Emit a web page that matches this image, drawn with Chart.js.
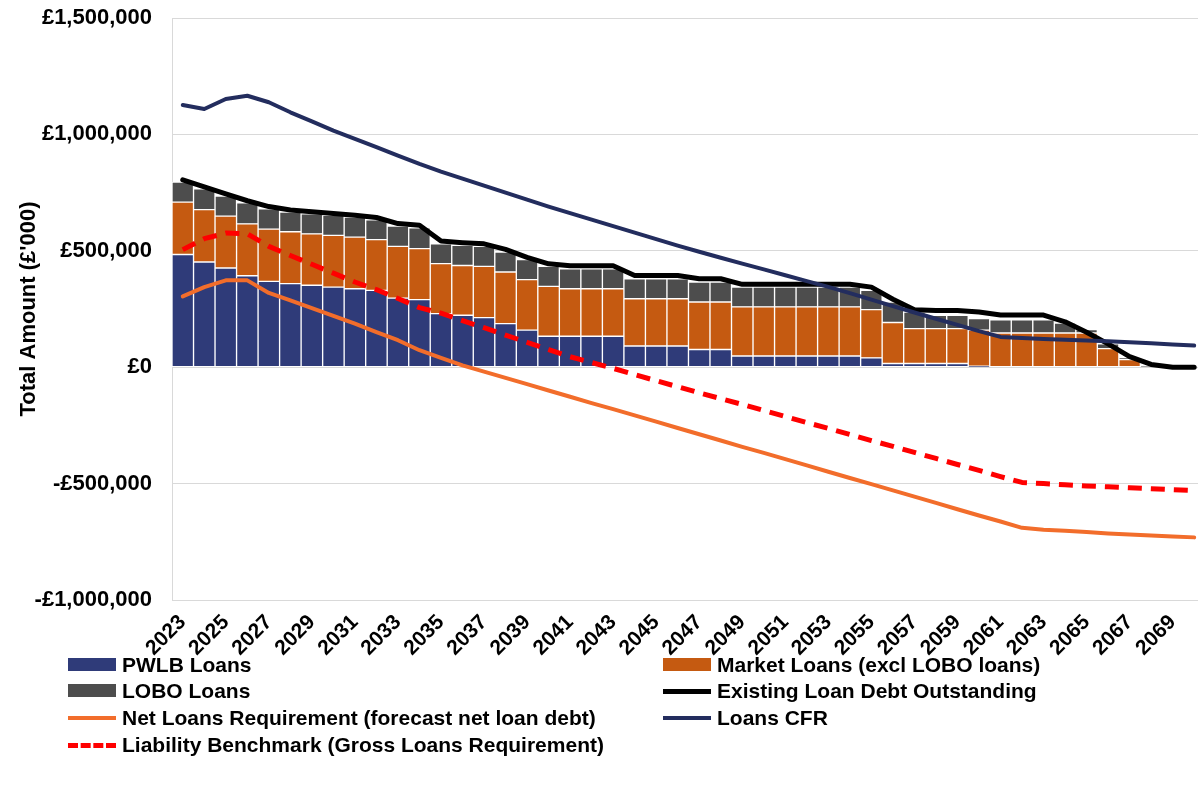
<!DOCTYPE html>
<html>
<head>
<meta charset="utf-8">
<script src="https://cdn.jsdelivr.net/npm/chart.js@4.4.1/dist/chart.umd.min.js"></script>
<style>
  html, body { margin: 0; padding: 0; background: #fff; overflow: hidden; }
  body { width: 1198px; height: 789px; position: relative; font-family: "Liberation Sans", Arial, sans-serif; }
  #wrap { position: absolute; left: 0; top: 0; width: 1214px; height: 656px; }
  #legend { position: absolute; left: 0; top: 0; width: 1198px; height: 789px; pointer-events: none; }
  .item { position: absolute; font-weight: bold; font-size: 21px; color: #000; white-space: nowrap; line-height: 24px; }
  .sym { position: absolute; left: 0; width: 48px; }
  .txt { position: absolute; left: 54px; top: 0; }
</style>
</head>
<body>
<div id="wrap"><canvas id="debtChart"></canvas></div>
<div id="legend"></div>
<script>
// Years 2023-2070
const years = [];
for (let y = 2023; y <= 2070; y++) years.push(String(y));

// Bars, in £'000
const pwlbLoans = [484, 452, 426, 393, 369, 359, 352, 344, 337, 330, 297, 290, 230, 223, 213, 187, 159, 133, 133, 133,
  133, 91, 91, 91, 76, 76, 48, 48, 48, 48, 48, 48, 40, 16, 16, 16, 16, 4, 0, 0,
  0, 0, 0, 0, 0, 0, 0, 0];
const marketLoans = [225, 225, 223, 223, 224, 223, 221, 222, 222, 218, 222, 219, 215, 214, 220, 222, 217, 214, 204, 204,
  204, 203, 203, 203, 204, 204, 211, 211, 211, 211, 211, 211, 207, 176, 150, 150, 150, 155, 147, 147,
  147, 147, 147, 80, 33, 0, 0, 0];
const loboLoans = [86, 89, 86, 90, 87, 84, 86, 86, 86, 85, 87, 90, 85, 86, 86, 85, 86, 86, 86, 86,
  86, 86, 86, 86, 86, 86, 85, 85, 85, 85, 85, 85, 83, 88, 71, 57, 57, 50, 57, 57,
  57, 43, 15, 20, 7, 4, 0, 0];

// Lines, in £'000
const existingDebt = [805, 775, 745, 715, 690, 675, 668, 660, 653, 643, 617, 610, 542, 535, 530, 506, 472, 444, 436, 436,
  436, 394, 394, 394, 380, 380, 356, 356, 356, 356, 356, 356, 344, 292, 247, 244, 244, 237, 224, 224,
  224, 195, 150, 100, 45, 12, 0, 0];
const netLoansReq = [304, 344, 373, 373, 319, 287, 254, 220, 187, 151, 116, 73, 40, 8, -19, -46, -73, -100, -127, -154,
  -180, -207, -234, -261, -288, -315, -342, -368, -395, -422, -449, -476, -502, -529, -556, -583, -610, -637, -663, -690,
  -698, -703, -708, -714, -719, -723, -727, -731];
const loansCFR = [1126, 1109, 1152, 1166, 1138, 1095, 1056, 1016, 981, 945, 909, 873, 840, 810, 780, 750, 720, 690, 662, 634,
  606, 578, 550, 522, 496, 470, 445, 420, 395, 370, 345, 318, 290, 262, 235, 208, 182, 155, 130, 125,
  121, 118, 115, 111, 107, 103, 98, 93];
const liabilityBenchmark = [505, 552, 576, 573, 519, 480, 442, 404, 366, 333, 295, 256, 232, 200, 170, 138, 107, 76, 45, 20,
  -5, -32, -58, -84, -110, -135, -160, -186, -212, -238, -263, -289, -315, -340, -366, -392, -418, -443, -470, -495,
  -500, -505, -510, -514, -518, -522, -526, -530];

const yTicks = [-1000000, -500000, 0, 500000, 1000000, 1500000];

const k = arr => arr.map(v => v * 1000);
const FONT = { family: '"Liberation Sans", Arial, sans-serif', size: 21, weight: 'bold' };
const TICK_FONT = { family: '"Liberation Sans", Arial, sans-serif', size: 22, weight: 'bold' };

const bar = (label, data, color) => ({
  type: 'bar', label, data: k(data), backgroundColor: color, borderColor: '#ffffff',
  borderWidth: 1, borderSkipped: false, stack: 'loans', order: 10,
  barPercentage: 1, categoryPercentage: 1
});
// each line gets its own stack so it is not summed with the others
const line = (label, data, color, width, order, dash) => ({
  type: 'line', label, data: k(data), borderColor: color, backgroundColor: color,
  borderWidth: width, pointRadius: 0, fill: false, tension: 0, order, stack: label,
  borderDash: dash || [], borderCapStyle: dash ? 'butt' : 'round', borderJoinStyle: 'round'
});

const datasets = [
  bar('PWLB Loans', pwlbLoans, '#2f3b79'),
  bar('Market Loans (excl LOBO loans)', marketLoans, '#c55a11'),
  bar('LOBO Loans', loboLoans, '#4d4d4d'),
  line('Existing Loan Debt Outstanding', existingDebt, '#000000', 5, 4),
  line('Net Loans Requirement (forecast net loan debt)', netLoansReq, '#f26d2b', 4, 2),
  line('Loans CFR', loansCFR, '#232d5e', 4, 3),
  line('Liability Benchmark (Gross Loans Requirement)', liabilityBenchmark, '#ff0000', 5, 1, [14, 9])
];

const ctx = document.getElementById('debtChart').getContext('2d');
const chart = new Chart(ctx, {
  data: { labels: years, datasets },
  options: {
    responsive: true,
    maintainAspectRatio: false,
    animation: false,
    layout: { padding: { top: 18, right: 0, bottom: 0, left: 0 } },
    plugins: { legend: { display: false }, tooltip: { enabled: false } },
    scales: {
      x: {
        stacked: true,
        grid: { display: false },
        border: { color: '#d9d9d9' },
        ticks: {
          autoSkip: false, maxRotation: 45, minRotation: 45, color: '#000', font: FONT, padding: 2,
          callback: (v, i) => (i % 2 === 0 ? years[i] : '')
        },
        afterFit: s => { s.height = 56; }
      },
      y: {
        stacked: true,
        min: -1000000, max: 1500000,
        afterBuildTicks: s => { s.ticks = yTicks.map(v => ({ value: v })); },
        // invisible tick marks push the labels away from the axis
        grid: { color: '#d9d9d9', lineWidth: 1, drawTicks: true, tickLength: 18, tickColor: 'rgba(0,0,0,0)' },
        border: { color: '#d9d9d9' },
        ticks: {
          color: '#000', font: TICK_FONT, padding: 2,
          callback: v => (v < 0 ? '-' : '') + '£' + Math.abs(v).toLocaleString('en-GB')
        },
        title: { display: true, text: "Total Amount (£'000)", color: '#000', font: TICK_FONT, padding: { top: 16 } },
        afterFit: s => { s.width = 172; }
      }
    }
  }
});

// Legend built from the datasets, two columns as in the original
const legendOrder = [0, 1, 2, 3, 4, 5, 6];
const colX = [68, 663];
const rowY = [653, 679, 706, 733];
const legend = document.getElementById('legend');
legendOrder.forEach((di, n) => {
  const ds = chart.data.datasets[di];
  const item = document.createElement('div');
  item.className = 'item';
  item.style.left = colX[n % 2] + 'px';
  item.style.top = rowY[Math.floor(n / 2)] + 'px';
  const sym = document.createElement('div');
  sym.className = 'sym';
  if (ds.type === 'bar') {
    sym.style.top = '5px';
    sym.style.height = '13px';
    sym.style.background = ds.backgroundColor;
  } else {
    const w = ds.borderWidth;
    sym.style.top = (12 - w / 2) + 'px';
    sym.style.height = '0px';
    sym.style.borderTop = w + 'px ' + (ds.borderDash.length ? 'dashed' : 'solid') + ' ' + ds.borderColor;
  }
  const txt = document.createElement('div');
  txt.className = 'txt';
  txt.textContent = ds.label;
  item.appendChild(sym);
  item.appendChild(txt);
  legend.appendChild(item);
});
</script>
</body>
</html>
